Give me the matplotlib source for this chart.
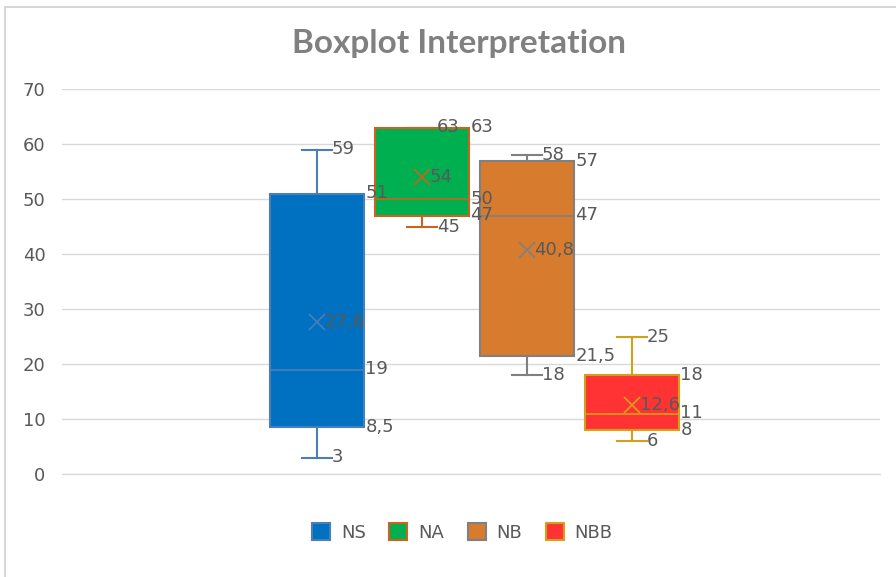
import matplotlib.pyplot as plt
from matplotlib.patches import Rectangle, Patch

# Data
names = ['NS', 'NA', 'NB', 'NBB']
mins = [3, 45, 18, 6]
q1s = [8.5, 47, 21.5, 8]
medians = [19, 50, 47, 11]
q3s = [51, 63, 57, 18]
maxs = [59, 63, 58, 25]
means = [27.6, 54, 40.8, 12.6]

fills = ['#0070C0', '#00B050', '#D77B2F', '#FF3333']
edges = ['#4A7EBB', '#C8641E', '#808080', '#D4A017']

label_color = '#595959'


def fmt(v):
    s = f"{v:g}"
    return s.replace('.', ',')


fig = plt.figure(figsize=(8.96, 5.77), dpi=100)
ax = fig.add_axes([62 / 896, 103 / 577, 818 / 896, 385 / 577])

stats = []
for i in range(len(names)):
    stats.append(dict(med=medians[i], q1=q1s[i], q3=q3s[i], whislo=mins[i],
                      whishi=maxs[i], mean=means[i], fliers=[], label=names[i]))

positions = list(range(len(names)))
for i, st in enumerate(stats):
    ax.bxp([st], positions=[positions[i]], widths=0.9, capwidths=0.28,
           patch_artist=True, showmeans=True, showfliers=False,
           boxprops=dict(facecolor=fills[i], edgecolor=edges[i], linewidth=1.5),
           medianprops=dict(color=edges[i], linewidth=1.2),
           whiskerprops=dict(color=edges[i], linewidth=1.5),
           capprops=dict(color=edges[i], linewidth=1.5),
           meanprops=dict(marker='x', markeredgecolor=edges[i], markersize=11,
                          markeredgewidth=1.2))

# data labels
fs = 13
for i, p in enumerate(positions):
    ax.text(p + 0.14, maxs[i], fmt(maxs[i]), fontsize=fs, color=label_color, va='center')
    ax.text(p + 0.14, mins[i], fmt(mins[i]), fontsize=fs, color=label_color, va='center')
    ax.text(p + 0.46, q3s[i], fmt(q3s[i]), fontsize=fs, color=label_color, va='center')
    ax.text(p + 0.46, q1s[i], fmt(q1s[i]), fontsize=fs, color=label_color, va='center')
    ax.text(p + 0.46, medians[i], fmt(medians[i]), fontsize=fs, color=label_color, va='center')
    ax.text(p + 0.07, means[i], fmt(means[i]), fontsize=fs, color=label_color, va='center')

ax.set_xlim(-2.43, 5.36)
ax.set_ylim(0, 70)
ax.set_yticks(range(0, 71, 10))
ax.set_xticks([])
ax.yaxis.grid(True, color='#D9D9D9', linewidth=1)
ax.set_axisbelow(True)
for s in ['top', 'right', 'left']:
    ax.spines[s].set_visible(False)
ax.spines['bottom'].set_color('#D9D9D9')
ax.tick_params(axis='y', length=0, labelsize=13, labelcolor=label_color, pad=12)

fig.text(0.512, 0.925, 'Boxplot Interpretation', ha='center', va='center',
         fontsize=24, color='#808080', family='Lato', weight='bold')

handles = [Patch(facecolor=fills[i], edgecolor=edges[i], linewidth=1.5, label=names[i])
           for i in range(len(names))]
fig.legend(handles=handles, loc='center', bbox_to_anchor=(0.516, 0.077), ncol=4,
           frameon=False, fontsize=13, labelcolor=label_color, handlelength=1.0,
           handleheight=1.0, columnspacing=1.3, handletextpad=0.6)

# chart border
fig.patches.append(Rectangle((5 / 896, -0.1), 1.2, 0.1 + (577 - 7) / 577,
                             transform=fig.transFigure, fill=False,
                             edgecolor='#D0D0D0', linewidth=1.2))

fig.savefig('out.png', dpi=100)
